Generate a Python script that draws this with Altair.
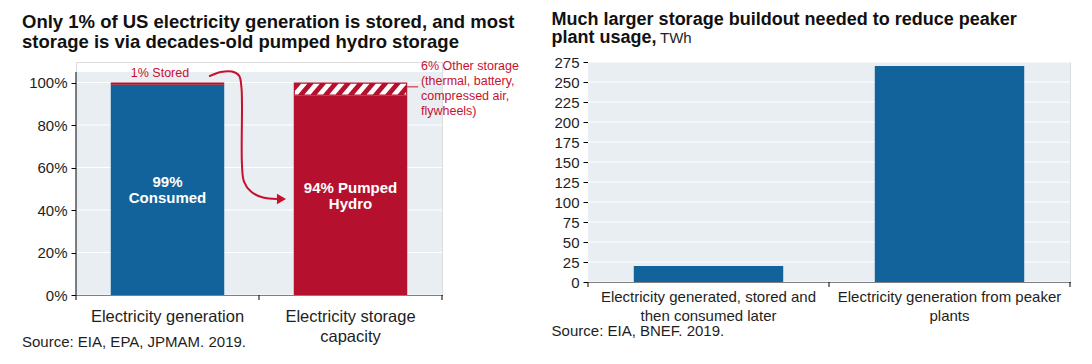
import altair as alt
import pandas as pd

# ---------------- data ----------------
left_title_lines = ["Only 1% of US electricity generation is stored, and most",
                    "storage is via decades-old pumped hydro storage"]
left_categories = ["Electricity generation", "Electricity storage capacity"]
left_category_lines = [["Electricity generation"], ["Electricity storage", "capacity"]]
left_segment_names = ["Consumed", "Stored", "Pumped Hydro", "Other storage"]
left_segment_category = ["Electricity generation", "Electricity generation",
                         "Electricity storage capacity", "Electricity storage capacity"]
left_segment_values = [99, 1, 94, 6]
left_y_ticks = [0, 20, 40, 60, 80, 100]
left_y_top = 105
left_bar_labels = [["99%", "Consumed"], ["94% Pumped", "Hydro"]]
left_bar_label_y = [53.0, 50.6]
left_stored_note = "1% Stored"
left_other_note = ["6% Other storage", "(thermal, battery,", "compressed air,", "flywheels)"]
left_source = "Source: EIA, EPA, JPMAM. 2019."
# curved arrow from "1% Stored" to the storage bar (x in category-band units, y in %)
arrow_x = [0.727, 0.792, 0.852, 0.891, 0.904, 0.907, 0.907, 0.918, 0.956, 1.022, 1.098]
arrow_y = [102.9, 105.0, 105.2, 103.3, 97.7, 89.7, 61.4, 53.4, 48.7, 45.9, 45.2]

right_title_lines = ["Much larger storage buildout needed to reduce peaker", "plant usage,"]
right_title_unit = "TWh"
right_categories = ["Electricity generated, stored and then consumed later",
                    "Electricity generation from peaker plants"]
right_category_lines = [["Electricity generated, stored and", "then consumed later"],
                        ["Electricity generation from peaker", "plants"]]
right_values = [20, 270]
right_y_ticks = [0, 25, 50, 75, 100, 125, 150, 175, 200, 225, 250, 275]
right_y_top = 275
right_source = "Source: EIA, BNEF. 2019."

# ---------------- style ----------------
BLUE = "#12639b"
RED = "#b5112e"
RED_TEXT = "#c8102e"
BG = "#e8eef2"
FONT = "Liberation Sans"
INK = "#1e1e1e"
P_IN, P_OUT = 0.38, 0.19

LW, LH = 366, 233
LMAX = 109.7          # plot area reaches a little above the shaded panel
RW, RH = 482, 220


def label_expr(cats, lines):
    expr = "datum.label"
    for c, ls in zip(cats, lines):
        arr = "[" + ",".join("'" + s + "'" for s in ls) + "]"
        expr = f"datum.value == '{c}' ? {arr} : ({expr})"
    return expr


one = pd.DataFrame({"k": [0]})

# ================= LEFT PANEL =================
rows = []
cum = {}
for name, cat, v in zip(left_segment_names, left_segment_category, left_segment_values):
    s = cum.get(cat, 0)
    rows.append({"cat": cat, "seg": name, "start": s, "end": s + v})
    cum[cat] = s + v
seg_df = pd.DataFrame(rows)

ly_scale = alt.Scale(domain=[0, LMAX], nice=False, zero=True)
lx_band = alt.Scale(domain=left_categories, paddingInner=P_IN, paddingOuter=P_OUT)
lx_q = alt.Scale(domain=[0, len(left_categories)], nice=False, zero=False)

left_y_axis = alt.Axis(values=left_y_ticks, labelExpr="datum.value + '%'", tickSize=5,
                       labelFontSize=15, labelPadding=4, grid=False, domain=False,
                       tickColor="black", labelColor=INK, labelFont=FONT)


def LY(field):
    return alt.Y(field, scale=ly_scale, title=None, axis=left_y_axis)


lbg = alt.Chart(one).mark_rect(color=BG).encode(
    x=alt.value(0), x2=alt.value(LW),
    y=alt.Y(datum=left_y_top, scale=ly_scale, title=None, axis=left_y_axis), y2=alt.Y2(datum=0))

lgrid_df = pd.DataFrame({"v": left_y_ticks})
lgrid = alt.Chart(lgrid_df).mark_rule(color="white", strokeWidth=1).encode(
    x=alt.value(0), x2=alt.value(LW), y=LY("v:Q"))

ldomain = alt.Chart(one).mark_rule(color="black", strokeWidth=1).encode(
    x=alt.value(0),
    y=alt.Y(datum=0, scale=ly_scale, title=None, axis=left_y_axis), y2=alt.Y2(datum=left_y_top))

bars_left = alt.Chart(seg_df).mark_bar().encode(
    x=alt.X("cat:N", scale=lx_band, sort=left_categories, title=None,
            axis=alt.Axis(labelAngle=0, ticks=False, labelFontSize=16.5, labelPadding=13,
                          labelLineHeight=20, labelLimit=400,
                          labelExpr=label_expr(left_categories, left_category_lines),
                          domainColor="black", labelColor=INK, labelFont=FONT, grid=False)),
    y=LY("start:Q"),
    y2="end:Q",
    color=alt.Color("seg:N", scale=alt.Scale(domain=left_segment_names, range=[BLUE, RED, RED, RED]),
                    legend=None),
)

# hatch stripes on the "Other storage" segment (decorative pattern derived from that segment)
other = seg_df[seg_df["seg"] == "Other storage"].iloc[0]
ci = left_categories.index(other["cat"])
xl = ci + P_OUT + 0.006
xr = ci + 1 - P_OUT - 0.006
y0, y1 = other["start"] + 0.4, other["end"] - 0.5
period, wstripe, slant = 0.068, 0.034, 0.05
s = slant / (y1 - y0)
hatch_rows = []
k = 0
a = xl - slant - wstripe
while a < xr:
    ys = {y0, y1}
    for edge in (xl, xr):
        for off in (0.0, wstripe):
            yy = y0 + (edge - a - off) / s
            if y0 < yy < y1:
                ys.add(yy)
    for yy in sorted(ys):
        L = a + s * (yy - y0)
        R = L + wstripe
        hatch_rows.append({"stripe": k, "y": yy, "xa": min(max(L, xl), xr), "xb": min(max(R, xl), xr)})
    k += 1
    a += period
hatch_df = pd.DataFrame(hatch_rows)

hatch = alt.Chart(hatch_df).mark_area(orient="horizontal", color="white").encode(
    y=LY("y:Q"),
    x=alt.X("xa:Q", scale=lx_q, axis=None),
    x2="xb:Q",
    detail="stripe:N",
)

bar_text_df = pd.DataFrame({"cat": left_categories, "y": left_bar_label_y, "t": left_bar_labels})
bar_text = alt.Chart(bar_text_df).mark_text(color="white", font=FONT, fontWeight="bold",
                                             fontSize=15, lineHeight=16, baseline="middle").encode(
    x=alt.X("cat:N", scale=lx_band, sort=left_categories, axis=None),
    y=LY("y:Q"),
    text="t",
)

arrow_df = pd.DataFrame({"i": range(len(arrow_x)), "x": arrow_x, "y": arrow_y})
arrow = alt.Chart(arrow_df).mark_line(color=RED_TEXT, strokeWidth=2, interpolate="catmull-rom").encode(
    x=alt.X("x:Q", scale=lx_q, axis=None),
    y=LY("y:Q"),
    order="i:Q",
)
head_df = pd.DataFrame({"x": [arrow_x[-1] + 0.025], "y": [arrow_y[-1]]})
head = alt.Chart(head_df).mark_point(shape="triangle-right", filled=True, color=RED_TEXT,
                                      size=110, opacity=1).encode(
    x=alt.X("x:Q", scale=lx_q, axis=None),
    y=LY("y:Q"),
)

note_df = pd.DataFrame({"x": [0.459], "y": [104.3]})
stored_note = alt.Chart(note_df).mark_text(text=left_stored_note, color=RED_TEXT, font=FONT,
                                           fontSize=12.5, align="center", baseline="middle").encode(
    x=alt.X("x:Q", scale=lx_q, axis=None),
    y=LY("y:Q"),
)
other_df = pd.DataFrame({"x": [2 - P_OUT + 0.075], "y": [108.0]})
other_note = alt.Chart(other_df).mark_text(text=left_other_note, color=RED_TEXT, font=FONT,
                                           fontSize=12.5, lineHeight=15, align="left",
                                           baseline="middle").encode(
    x=alt.X("x:Q", scale=lx_q, axis=None),
    y=LY("y:Q"),
)
leader_df = pd.DataFrame({"x": [2 - P_OUT], "x2": [2 - P_OUT + 0.06], "y": [98.0]})
leader = alt.Chart(leader_df).mark_rule(color=RED_TEXT, strokeWidth=1).encode(
    x=alt.X("x:Q", scale=lx_q, axis=None), x2="x2:Q",
    y=LY("y:Q"),
)

ltick_df = pd.DataFrame({"x": list(range(len(left_categories) + 1))})
lticks = alt.Chart(ltick_df).mark_rule(color="black").encode(
    x=alt.X("x:Q", scale=lx_q, axis=None),
    y=alt.value(LH), y2=alt.value(LH + 5),
)

ltitle = alt.Chart(one).mark_text(text=left_title_lines, font=FONT, fontWeight="bold", fontSize=18.5,
                                  lineHeight=20, align="left", baseline="alphabetic", color="#111").encode(
    x=alt.value(-54), y=alt.value(-33.7))
lsource = alt.Chart(one).mark_text(text=left_source, font=FONT, fontSize=15, align="left",
                                   baseline="middle", color=INK).encode(
    x=alt.value(-54), y=alt.value(280))

left = alt.layer(lbg, lgrid, bars_left, hatch, bar_text, arrow, head, stored_note, leader, other_note,
                 ldomain, lticks, ltitle, lsource).resolve_scale(x="independent").properties(
    width=LW, height=LH)

# ================= RIGHT PANEL =================
right_df = pd.DataFrame({"cat": right_categories, "v": right_values})
ry_scale = alt.Scale(domain=[0, right_y_top], nice=False, zero=True)
rx_band = alt.Scale(domain=right_categories, paddingInner=P_IN, paddingOuter=P_OUT)
rx_q = alt.Scale(domain=[0, len(right_categories)], nice=False, zero=False)
right_y_axis = alt.Axis(values=right_y_ticks, tickSize=5, labelFontSize=15, labelPadding=4,
                        grid=False, domainColor="black",
                        tickColor="black", labelColor=INK, labelFont=FONT)


def RY(field):
    return alt.Y(field, scale=ry_scale, title=None, axis=right_y_axis)


rbg = alt.Chart(one).mark_rect(color=BG).encode(
    x=alt.value(0), x2=alt.value(RW),
    y=alt.Y(datum=right_y_top, scale=ry_scale, title=None, axis=right_y_axis), y2=alt.Y2(datum=0))
rgrid_df = pd.DataFrame({"v": right_y_ticks})
rgrid = alt.Chart(rgrid_df).mark_rule(color="white", strokeWidth=1).encode(
    x=alt.value(0), x2=alt.value(RW), y=RY("v:Q"))

bars_right = alt.Chart(right_df).mark_bar(color=BLUE).encode(
    x=alt.X("cat:N", scale=rx_band, sort=right_categories, title=None,
            axis=alt.Axis(labelAngle=0, ticks=False, labelFontSize=15, labelPadding=7.5,
                          labelLineHeight=18.5, labelLimit=400,
                          labelExpr=label_expr(right_categories, right_category_lines),
                          domainColor="black", labelColor=INK, labelFont=FONT, grid=False)),
    y=RY("v:Q"),
)
rtick_df = pd.DataFrame({"x": list(range(len(right_categories) + 1))})
rticks = alt.Chart(rtick_df).mark_rule(color="black").encode(
    x=alt.X("x:Q", scale=rx_q, axis=None),
    y=alt.value(RH), y2=alt.value(RH + 5),
)
rtitle = alt.Chart(one).mark_text(text=right_title_lines, font=FONT, fontWeight="bold", fontSize=18,
                                  lineHeight=18.5, align="left", baseline="alphabetic", color="#111").encode(
    x=alt.value(-36.4), y=alt.value(-37.5))
runit = alt.Chart(one).mark_text(text=right_title_unit, font=FONT, fontSize=15, align="left",
                                 baseline="alphabetic", color=INK).encode(
    x=alt.value(72), y=alt.value(-19))
rsource = alt.Chart(one).mark_text(text=right_source, font=FONT, fontSize=15, align="left",
                                   baseline="middle", color=INK).encode(
    x=alt.value(-36.4), y=alt.value(269))

right = alt.layer(rbg, rgrid, bars_right, rticks, rtitle, runit, rsource).resolve_scale(
    x="independent").properties(width=RW, height=RH)

chart = alt.hconcat(left, right, spacing=31).properties(
    padding={"left": 13, "top": 2, "right": 0, "bottom": 0}
).configure_view(strokeWidth=0).configure(background="white")

chart.save("out.html", embed_options={"renderer": "svg", "actions": False})
